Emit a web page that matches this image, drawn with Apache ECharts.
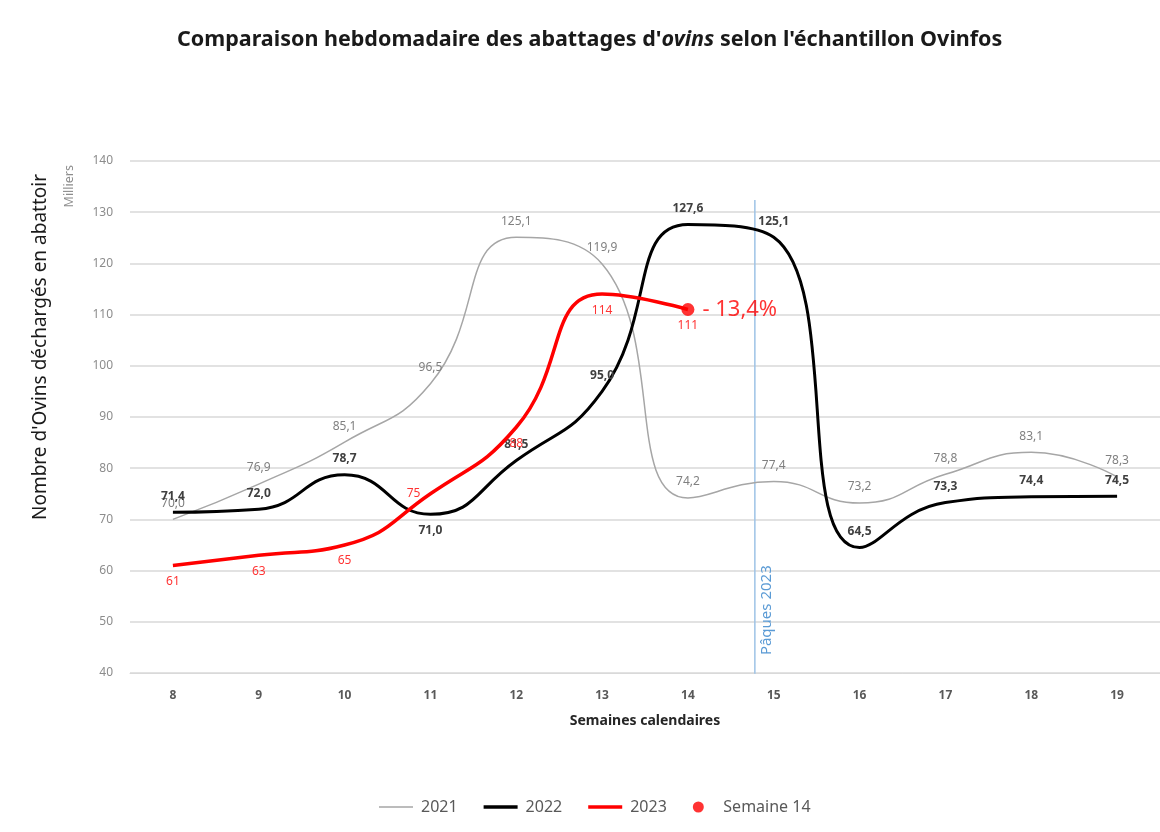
<!DOCTYPE html>
<html>
<head>
<meta charset="utf-8">
<script src="https://cdn.jsdelivr.net/npm/echarts@6/dist/echarts.min.js"></script>
<style>
  html, body { margin: 0; padding: 0; background: #fff; }
  #chart { width: 1160px; height: 832px; }
</style>
</head>
<body>
<div id="chart"></div>
<script>
  // semaines calendaires
  var weeks = ['8', '9', '10', '11', '12', '13', '14', '15', '16', '17', '18', '19']
  var yTicks = [40, 50, 60, 70, 80, 90, 100, 110, 120, 130, 140]
  // abattages (milliers)
  var v2021 = [70.0, 76.9, 85.1, 96.5, 125.1, 119.9, 74.2, 77.4, 73.2, 78.8, 83.1, 78.3]
  var v2022 = [71.4, 72.0, 78.7, 71.0, 81.5, 95.0, 127.6, 125.1, 64.5, 73.3, 74.4, 74.5]
  var v2023 = [61, 63, 65, 75, 88, 114, 111]
  var semaineWeek = '14'
  var semaineValue = 111
  var semaineLabel = '- 13,4%'
  var paquesWeek = 14.78 // entre S14 et S15
  var paquesSpan = [39, 132.4]
  var paquesLabel = 'Pâques 2023'

  // label placement (Excel put them by hand)
  var pos2022 = { 3: 'bottom' }
  var pos2023 = { 3: 'left' }

  var fmt1 = function (p) { return p.value.toFixed(1).replace('.', ',') }
  var font = '"Noto Sans", "Open Sans", sans-serif'

  function withPos(vals, posMap) {
    return vals.map(function (v, i) {
      if (posMap[i]) return { value: v, label: { position: posMap[i] } }
      return v
    })
  }

  var myChart = echarts.init(document.getElementById('chart'))
  var option = {
    backgroundColor: '#fff',
    textStyle: { fontFamily: font },
    title: {
      text: '{a|Comparaison hebdomadaire des abattages d\'}{i|ovins}{a| selon l\'échantillon Ovinfos}',
      left: 172,
      top: 24,
      textStyle: {
        rich: {
          a: { fontSize: 21.5, fontWeight: 'bold', color: '#1a1a1a', fontFamily: font },
          i: { fontSize: 21.5, fontWeight: 'bold', fontStyle: 'italic', color: '#1a1a1a', fontFamily: font }
        }
      }
    },
    legend: {
      bottom: 12,
      left: 374,
      itemGap: 26,
      itemWidth: 34,
      itemHeight: 11,
      textStyle: { color: '#595959', fontSize: 16, fontFamily: font, padding: [0, 0, 0, 3] },
      data: [
        { name: '2021', icon: 'path://M0,0H40V2H0Z' },
        { name: '2022', icon: 'path://M0,0H40V4H0Z' },
        { name: '2023', icon: 'path://M0,0H40V4H0Z' },
        { name: 'Semaine 14', icon: 'circle' }
      ]
    },
    grid: { left: 130, right: 0, top: 161, bottom: 159 },
    xAxis: [{
      type: 'category',
      data: weeks,
      boundaryGap: true,
      name: 'Semaines calendaires',
      nameLocation: 'middle',
      nameGap: 41,
      nameTextStyle: { color: '#262626', fontSize: 14, fontWeight: 'bold' },
      axisLine: { lineStyle: { color: '#d9d9d9' } },
      axisTick: { show: false },
      axisLabel: { color: '#595959', fontSize: 12, fontWeight: 'bold', margin: 17 }
    }, {
      type: 'value',
      min: 7.5,
      max: 19.5,
      show: false
    }],
    yAxis: {
      type: 'value',
      min: yTicks[0],
      max: yTicks[yTicks.length - 1],
      interval: 10,
      name: 'Nombre d\'Ovins déchargés en abattoir',
      nameLocation: 'middle',
      nameGap: 80,
      nameTextStyle: { color: '#1a1a1a', fontSize: 19, padding: [0, 0, 0, 140] },
      axisLine: { show: false },
      axisTick: { show: false },
      axisLabel: { color: '#8c8c8c', fontSize: 12, margin: 17 },
      splitLine: { lineStyle: { color: '#d9d9d9', width: 1.5 } }
    },
    graphic: [{
      type: 'text',
      left: 63,
      top: 165,
      rotation: Math.PI / 2,
      style: { text: 'Milliers', fill: '#8c8c8c', font: '12.5px ' + font }
    }],
    series: [
      {
        name: '2021',
        type: 'line',
        data: v2021,
        smooth: 0.5,
        symbol: 'circle',
        symbolSize: 0,
        color: '#a6a6a6',
        lineStyle: { color: '#a6a6a6', width: 1.5 },
        label: { show: true, position: 'top', distance: 10, color: '#808080', fontSize: 12, formatter: fmt1 },
        z: 2
      },
      {
        name: '2022',
        type: 'line',
        data: withPos(v2022, pos2022),
        smooth: 0.5,
        symbol: 'circle',
        symbolSize: 0,
        color: '#000',
        lineStyle: { color: '#000', width: 3 },
        label: { show: true, position: 'top', distance: 10, color: '#404040', fontSize: 12, fontWeight: 'bold', formatter: fmt1 },
        z: 3
      },
      {
        name: '2023',
        type: 'line',
        data: withPos(v2023, pos2023),
        smooth: 0.5,
        symbol: 'circle',
        symbolSize: 0,
        color: '#ff0000',
        lineStyle: { color: '#ff0000', width: 3.5 },
        label: { show: true, position: 'bottom', distance: 10, color: '#ff3333', fontSize: 12 },
        z: 4
      },
      {
        name: 'Semaine 14',
        type: 'scatter',
        data: [[semaineWeek, semaineValue]],
        symbol: 'circle',
        symbolSize: 13,
        color: '#ff0000',
        label: { show: true, position: 'right', distance: 8, color: '#ff0000', fontSize: 22, formatter: semaineLabel },
        z: 5
      },
      {
        // trait vertical Pâques, tracé sur l'axe x secondaire (valeur)
        name: 'Pâques',
        type: 'line',
        xAxisIndex: 1,
        clip: false,
        data: [
          { value: [paquesWeek, paquesSpan[0]], label: { show: true } },
          [paquesWeek, paquesSpan[1]]
        ],
        symbol: 'circle',
        symbolSize: 0,
        silent: true,
        color: '#9dc3e6',
        lineStyle: { color: '#9dc3e6', width: 1.5 },
        label: {
          show: false,
          position: [12, -23],
          rotate: 90,
          align: 'left',
          verticalAlign: 'middle',
          color: '#5b9bd5',
          fontSize: 15,
          formatter: paquesLabel
        },
        z: 1
      }
    ]
  }
  myChart.setOption(option)
</script>
</body>
</html>
